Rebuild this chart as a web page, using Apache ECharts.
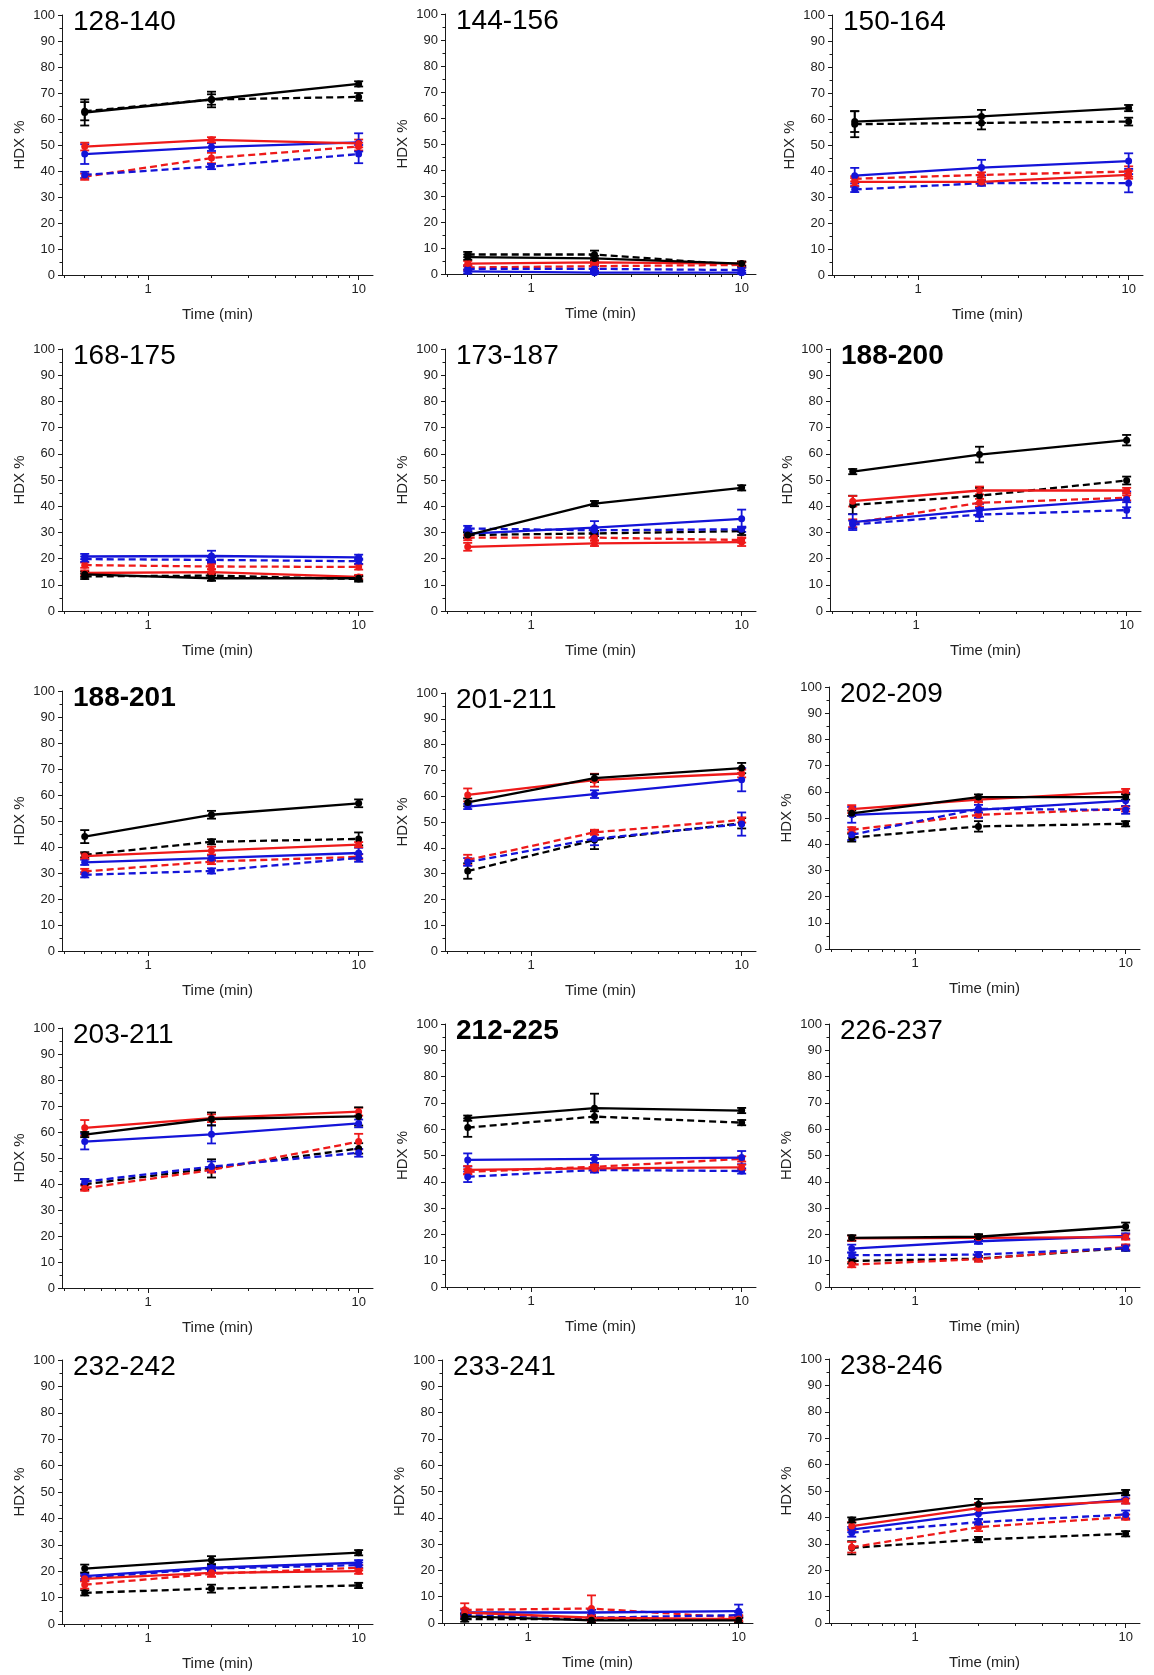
<!DOCTYPE html>
<html>
<head>
<meta charset="utf-8">
<script src="https://cdn.jsdelivr.net/npm/echarts@6/dist/echarts.min.js"></script>
<style>
  html, body { margin: 0; padding: 0; background: #ffffff; }
  #chart { width: 1154px; height: 1675px; }
</style>
</head>
<body>
<div id="chart"></div>
<script>
// Deuterium uptake (HDX %) per peptide at three labelling times (min)
const times = [0.5, 2, 10];

const peptides = [
  '128-140', '144-156', '150-164',
  '168-175', '173-187', '188-200',
  '188-201', '201-211', '202-209',
  '203-211', '212-225', '226-237',
  '232-242', '233-241', '238-246'
];
const boldPeptides = ['188-200', '188-201', '212-225'];

// One row per peptide: values at 0.5, 2 and 10 min
const blackSolid = [
  [62.5, 67.5, 73.5], [6.5, 6.0, 4.0], [59.0, 61.0, 64.2],
  [14.0, 12.5, 12.5], [29.0, 41.0, 47.0], [53.2, 59.7, 65.2],
  [44.0, 52.4, 56.8], [57.6, 67.0, 70.9], [51.8, 58.0, 58.0],
  [59.0, 65.0, 66.0], [64.2, 68.0, 67.1], [18.7, 19.1, 23.0],
  [21.0, 24.2, 27.0], [2.5, 1.0, 1.0], [39.0, 45.0, 49.4]
];
const blackSolidErr = [
  [5, 3, 1], [1, 1, 0.8], [4, 2.5, 1.2],
  [1, 1, 0.8], [1, 1, 1], [1, 3, 2],
  [2.5, 1.5, 1.5], [1.5, 1.5, 2], [1, 1, 1],
  [1, 2.5, 3.5], [1, 5.5, 1], [1, 1, 1.5],
  [1.5, 1.5, 1], [1, 1, 1], [1, 2, 1]
];

const blackDashed = [
  [63.0, 67.5, 68.5], [7.5, 7.5, 3.5], [58.0, 58.5, 59.0],
  [13.2, 13.5, 12.2], [29.0, 29.6, 30.5], [40.5, 44.0, 49.8],
  [37.0, 42.0, 43.1], [31.0, 43.0, 49.5], [42.5, 46.8, 47.8],
  [39.9, 46.0, 53.7], [60.6, 64.8, 62.5], [9.9, 10.8, 14.8],
  [11.8, 13.4, 14.6], [1.5, 1.5, 1.5], [28.5, 31.6, 33.8]
];
const blackDashedErr = [
  [3.5, 2, 1.5], [1, 1.5, 1], [5, 2.5, 1.5],
  [1, 1, 1], [1, 1, 1.5], [3.5, 3, 1.5],
  [1, 1, 2.5], [3, 3.5, 2], [1.5, 2, 1],
  [2, 3.5, 2], [3.5, 2, 1], [1, 1, 1],
  [1, 1.5, 1], [1, 1, 1], [2.5, 1, 1]
];

const redSolid = [
  [49.4, 52.0, 50.6], [4.0, 4.5, 4.0], [35.8, 35.8, 38.5],
  [14.5, 14.8, 13.0], [24.5, 25.8, 26.3], [41.9, 46.0, 46.0],
  [36.5, 38.6, 40.9], [60.5, 66.2, 68.8], [53.4, 57.0, 60.1],
  [61.6, 65.3, 67.8], [44.5, 45.1, 45.5], [18.5, 18.7, 19.0],
  [17.1, 19.4, 20.0], [4.0, 2.0, 1.5], [36.7, 43.5, 46.2]
];
const redSolidErr = [
  [1.5, 1, 1.5], [1, 1, 0.8], [1.5, 1, 1.5],
  [1, 1, 0.8], [1.5, 1, 1.5], [2, 1.5, 1],
  [1, 1.5, 1], [2.5, 2.5, 1.5], [1.5, 1, 1],
  [3, 1.5, 1.5], [1.5, 1, 1], [1, 1, 1],
  [1, 1.5, 1], [1.5, 1, 1], [1.5, 2, 1]
];

const redDashed = [
  [37.8, 45.0, 49.4], [2.5, 3.0, 3.5], [37.0, 38.5, 39.8],
  [17.5, 17.0, 16.8], [28.0, 28.0, 27.1], [33.5, 41.3, 43.2],
  [30.6, 34.4, 36.2], [35.3, 46.0, 50.8], [45.5, 51.2, 53.5],
  [38.4, 45.4, 56.3], [43.8, 45.7, 48.7], [8.5, 10.6, 15.2],
  [14.9, 19.0, 21.3], [5.0, 5.5, 2.0], [28.7, 36.3, 40.1]
];
const redDashedErr = [
  [1.2, 2, 1.5], [1, 1, 1], [1, 1, 2],
  [1, 1, 1], [1, 1, 1], [1.5, 1.5, 1],
  [1, 1, 1], [2, 1, 1], [1, 1, 1],
  [1, 1, 3], [1, 1, 1], [1, 1, 1],
  [1.5, 1, 1], [2.5, 5, 1], [2, 1.5, 1]
];

const blueSolid = [
  [46.5, 49.2, 51.0], [1.0, 0.5, 0.5], [38.2, 41.3, 43.8],
  [20.8, 21.0, 20.5], [29.5, 31.8, 35.2], [33.9, 38.5, 42.6],
  [34.1, 35.7, 37.7], [56.0, 60.8, 66.4], [51.2, 53.1, 56.6],
  [56.3, 59.1, 63.3], [48.3, 48.7, 49.2], [14.6, 17.4, 19.4],
  [18.1, 21.3, 23.2], [4.0, 4.0, 4.5], [35.4, 41.4, 46.8]
];
const blueSolidErr = [
  [3.8, 1.5, 3.5], [0.8, 0.8, 0.8], [3, 3, 3],
  [1, 2, 1], [1.5, 2.5, 3.5], [3, 2.5, 3],
  [1, 1, 2], [1, 1.5, 4.5], [3, 3, 3],
  [3, 3.5, 1.5], [2.5, 1.5, 2.5], [1.5, 1, 1],
  [1, 1, 1], [1, 1, 2.5], [1, 2, 1.5]
];

const blueDashed = [
  [38.5, 41.7, 46.5], [2.0, 2.0, 1.5], [32.9, 35.3, 35.3],
  [19.8, 19.5, 19.0], [31.5, 30.8, 31.2], [33.0, 36.8, 38.5],
  [29.3, 30.8, 35.8], [34.5, 43.5, 49.2], [43.6, 53.5, 53.1],
  [40.9, 46.7, 52.0], [41.9, 44.5, 44.1], [12.1, 12.3, 14.8],
  [17.5, 21.0, 22.3], [3.0, 2.0, 3.0], [34.2, 38.2, 41.1]
];
const blueDashedErr = [
  [1.2, 1, 3.5], [1, 1, 1], [1, 1, 3.5],
  [1, 1, 1], [1, 1, 1], [1.5, 2.5, 3],
  [1, 1, 1.5], [1.5, 2.5, 4.5], [2, 1.5, 1.5],
  [1, 2, 1.5], [2, 1, 1], [1, 1, 1],
  [1, 1, 1], [1, 1, 1], [1.5, 1, 1.5]
];

const majorTimeTicks = [1, 10];
const minorTimeTicks = [0.4, 0.5, 0.6, 0.7, 0.8, 0.9, 2, 3, 4, 5, 6, 7, 8, 9];

// Panel frames in pixels: [left, top (100 %), bottom (0 %)]
const panelFrames = [
  [62, 15, 275], [445, 14, 274], [832, 15, 275],
  [62, 349, 611], [445, 349, 611], [830, 349, 611],
  [62, 691, 951], [445, 693, 951], [829, 687, 949],
  [62, 1028, 1288], [445, 1024, 1287], [829, 1024, 1287],
  [62, 1360, 1624], [442, 1360, 1623], [829, 1359, 1623]
];
const panelWidth = 311;

const FONT = '"Liberation Sans", Arial, sans-serif';
const RED = '#ee1a1a';
const BLUE = '#1414d8';
const BLACK = '#000000';

const curves = [
  { values: blackDashed, errors: blackDashedErr, color: BLACK, dashed: true },
  { values: redDashed, errors: redDashedErr, color: RED, dashed: true },
  { values: blueDashed, errors: blueDashedErr, color: BLUE, dashed: true },
  { values: blueSolid, errors: blueSolidErr, color: BLUE, dashed: false },
  { values: redSolid, errors: redSolidErr, color: RED, dashed: false },
  { values: blackSolid, errors: blackSolidErr, color: BLACK, dashed: false }
];

function errorBarRenderer(color) {
  return function (params, api) {
    const t = api.value(0);
    const v = api.value(1);
    const e = api.value(2);
    const hi = api.coord([t, v + e]);
    const lo = api.coord([t, Math.max(0, v - e)]);
    const cap = 4.5;
    const style = { stroke: color, lineWidth: 1.8 };
    return {
      type: 'group',
      children: [
        { type: 'line', shape: { x1: hi[0], y1: hi[1], x2: lo[0], y2: lo[1] }, style: style },
        { type: 'line', shape: { x1: hi[0] - cap, y1: hi[1], x2: hi[0] + cap, y2: hi[1] }, style: style },
        { type: 'line', shape: { x1: lo[0] - cap, y1: lo[1], x2: lo[0] + cap, y2: lo[1] }, style: style }
      ]
    };
  };
}

const axisColor = '#1a1a1a';
const labelColor = '#222222';

const grid = [];
const xAxis = [];
const yAxis = [];
const title = [];
const series = [];

peptides.forEach(function (name, i) {
  const f = panelFrames[i];
  grid.push({ left: f[0], top: f[1], width: panelWidth, height: f[2] - f[1] });

  title.push({
    text: name,
    left: f[0] + 11,
    top: f[1] - 7,
    padding: 0,
    textStyle: {
      fontFamily: FONT,
      fontSize: 28,
      fontWeight: boldPeptides.indexOf(name) >= 0 ? 'bold' : 'normal',
      color: '#000000'
    }
  });

  // main time axis: line, decade ticks, labels and name
  xAxis.push({
    type: 'log',
    logBase: 10,
    gridIndex: i,
    position: 'bottom',
    min: 0.39,
    max: 11.7,
    name: 'Time (min)',
    nameLocation: 'middle',
    nameGap: 32,
    nameTextStyle: { fontFamily: FONT, fontSize: 15, color: labelColor },
    axisLine: { show: true, lineStyle: { color: axisColor, width: 1 } },
    axisTick: { show: true, customValues: majorTimeTicks, length: 5, lineStyle: { color: axisColor, width: 1 } },
    axisLabel: {
      customValues: majorTimeTicks,
      formatter: function (v) { return String(v); },
      fontFamily: FONT, fontSize: 13, color: labelColor, margin: 8
    },
    splitLine: { show: false },
    minorTick: { show: false }
  });
  // companion axis carrying the intermediate log ticks
  xAxis.push({
    type: 'log',
    logBase: 10,
    gridIndex: i,
    position: 'bottom',
    min: 0.39,
    max: 11.7,
    axisLine: { show: false },
    axisTick: { show: true, customValues: minorTimeTicks, length: 3, lineStyle: { color: axisColor, width: 1 } },
    axisLabel: { show: false },
    splitLine: { show: false }
  });

  yAxis.push({
    type: 'value',
    gridIndex: i,
    min: 0,
    max: 100,
    interval: 10,
    name: 'HDX %',
    nameLocation: 'middle',
    nameGap: 35,
    nameRotate: 90,
    nameTextStyle: { fontFamily: FONT, fontSize: 15, color: labelColor },
    axisLine: { show: true, lineStyle: { color: axisColor, width: 1 } },
    axisTick: { show: true, length: 4, lineStyle: { color: axisColor, width: 1 } },
    minorTick: { show: true, splitNumber: 2, length: 2.5, lineStyle: { color: axisColor, width: 1 } },
    axisLabel: { fontFamily: FONT, fontSize: 13, color: labelColor, margin: 7 },
    splitLine: { show: false },
    minorSplitLine: { show: false }
  });

  curves.forEach(function (c) {
    const vals = c.values[i];
    const errs = c.errors[i];
    const lineData = times.map(function (t, k) { return [t, vals[k]]; });
    const errData = times.map(function (t, k) { return [t, vals[k], errs[k]]; });
    series.push({
      type: 'custom',
      xAxisIndex: 2 * i,
      yAxisIndex: i,
      renderItem: errorBarRenderer(c.color),
      encode: { x: 0, y: 1 },
      data: errData,
      silent: true,
      z: 2
    });
    series.push({
      type: 'line',
      xAxisIndex: 2 * i,
      yAxisIndex: i,
      data: lineData,
      symbol: 'circle',
      symbolSize: 7,
      showSymbol: true,
      itemStyle: { color: c.color },
      lineStyle: { color: c.color, width: 2.3, type: c.dashed ? [7, 4] : 'solid' },
      silent: true,
      z: 3
    });
  });
});

const chart = echarts.init(document.getElementById('chart'), null, { renderer: 'canvas' });
chart.setOption({
  animation: false,
  backgroundColor: '#ffffff',
  textStyle: { fontFamily: FONT },
  title: title,
  grid: grid,
  xAxis: xAxis,
  yAxis: yAxis,
  series: series
});
</script>
</body>
</html>
